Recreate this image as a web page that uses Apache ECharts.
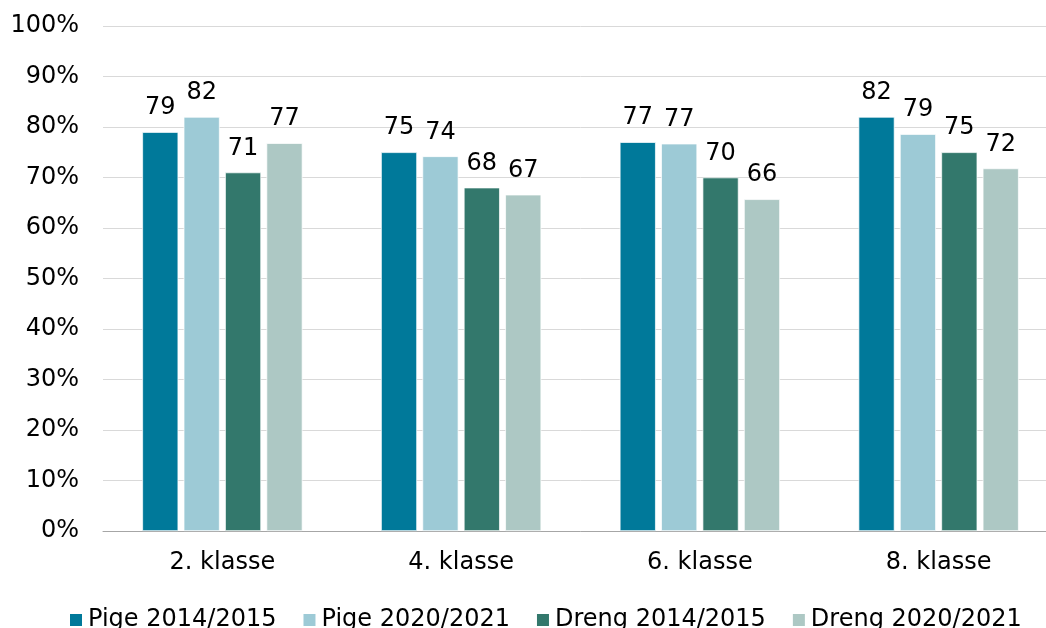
<!DOCTYPE html>
<html>
<head>
<meta charset="utf-8">
<script src="https://cdn.jsdelivr.net/npm/echarts@6/dist/echarts.min.js"></script>
<style>
html,body{margin:0;padding:0;background:#fff;overflow:hidden;width:1046px;height:628px;}
#chart{width:1058px;height:628px;}
</style>
</head>
<body>
<div id="chart"></div>
<script>
const categories = ['2. klasse', '4. klasse', '6. klasse', '8. klasse'];
const seriesNames = ['Pige 2014/2015', 'Pige 2020/2021', 'Dreng 2014/2015', 'Dreng 2020/2021'];
const pige2014 = [79.0, 75.0, 77.0, 82.0];
const pige2020 = [82.0, 74.2, 76.7, 78.6];
const dreng2014 = [71.0, 68.0, 70.0, 75.0];
const dreng2020 = [76.8, 66.6, 65.7, 71.8];
const colors = ['#00799A', '#9DCAD6', '#33786C', '#ADC8C4'];

const FONT = "Verdana, 'DejaVu Sans', sans-serif";
const values = [pige2014, pige2020, dreng2014, dreng2020];

const chart = echarts.init(document.getElementById('chart'), null, {renderer: 'canvas', width: 1058, height: 628});
chart.setOption({
  animation: false,
  backgroundColor: '#fff',
  textStyle: {fontFamily: FONT},
  grid: {left: 103, top: 26, right: 0, height: 505, containLabel: false},
  legend: {
    left: 68, top: 608, padding: 0,
    itemWidth: 14, itemHeight: 14, itemGap: 25,
    icon: 'rect',
    textStyle: {fontFamily: FONT, fontSize: 24, color: '#000', padding: [0, 0, 0, 0]},
    data: seriesNames
  },
  xAxis: {
    type: 'category',
    data: categories,
    axisLine: {lineStyle: {color: '#A6A6A6', width: 1}},
    axisTick: {show: false},
    axisLabel: {fontFamily: FONT, fontSize: 24, color: '#000', margin: 20}
  },
  yAxis: {
    type: 'value',
    min: 0, max: 100, interval: 10,
    axisLine: {show: false},
    axisTick: {show: false},
    splitLine: {lineStyle: {color: '#D9D9D9', width: 1}},
    axisLabel: {fontFamily: FONT, fontSize: 24, color: '#000', margin: 24, formatter: '{value}%'}
  },
  series: seriesNames.map((name, i) => ({
    name: name,
    type: 'bar',
    data: values[i],
    barWidth: 36,
    barGap: '15%',
    itemStyle: {color: colors[i], borderColor: '#ffffff', borderWidth: 0.7},
    label: {
      show: true, position: 'top', distance: 12,
      fontFamily: FONT, fontSize: 24, color: '#000',
      formatter: p => String(Math.round(p.value))
    }
  }))
});
</script>
</body>
</html>
